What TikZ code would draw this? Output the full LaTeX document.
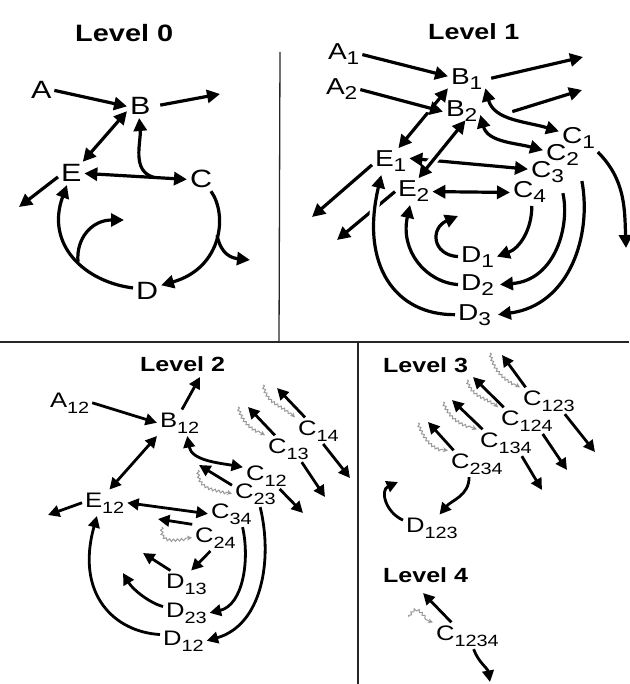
\documentclass[tikz,border=0pt]{standalone}
\usepackage{fontspec}
\setmainfont{Liberation Sans}[FakeStretch=1.22]
\usetikzlibrary{arrows.meta,decorations.pathmorphing,calc}
\newcommand\subA[1]{\raisebox{-5pt}{\fontsize{18.6}{19}\selectfont #1}}
\newcommand\subB[1]{\raisebox{-6pt}{\fontsize{16.3}{17}\selectfont #1}}
\begin{document}
\begin{tikzpicture}[x=1pt,y=1pt,
  lab/.style={inner sep=0pt, outer sep=3pt, anchor=base west, xshift=-3pt},
  tz/.style={lab, font=\fontsize{25}{25}\selectfont},
  to/.style={lab, font=\fontsize{23}{23}\selectfont},
  tt/.style={lab, font=\fontsize{21}{21}\selectfont},
  ttl/.style={inner sep=0pt, anchor=base west, font=\bfseries\fontsize{#1}{#1}\selectfont},
  arA/.style={line width=3.2pt, -{Triangle[length=13pt,width=13pt]}},
  darA/.style={line width=3.2pt, {Triangle[length=13pt,width=13pt]}-{Triangle[length=13pt,width=13pt]}},
  arB/.style={line width=2.8pt, -{Triangle[length=11.5pt,width=11.5pt]}},
  darB/.style={line width=2.8pt, {Triangle[length=11.5pt,width=11.5pt]}-{Triangle[length=11.5pt,width=11.5pt]}},
  halo/.style={preaction={draw=white, line width=9pt, -, shorten <=12pt, shorten >=12pt}},
  ghost/.style={draw=black!40, line width=1pt, decorate,
    decoration={snake, amplitude=1.2pt, segment length=4pt, post length=5pt},
    -{Stealth[length=5pt,width=5pt]}},
  framel/.style={line width=1.3pt, draw=black!85}]
\useasboundingbox (0,0) rectangle (629,-684);

% frame
\draw[framel] (280,-52) -- (279,-342);
\draw[framel] (0,-342) -- (629,-342);
\draw[framel] (358,-342) -- (358,-684);

% ---------------- Level 0
\node[ttl=23.7] (L0) at (75,-42) {Level 0};
\node[tz] (A) at (31,-99) {A};
\node[tz] (B) at (130,-115) {B};
\node[tz] (E) at (61,-182) {E};
\node[tz] (C) at (190,-188) {C};
\node[tz] (D) at (136,-299) {D};
\coordinate (Bout) at (220,-94);
\coordinate (Eout) at (19,-207);
\coordinate (Dcurl) at (124,-220);
\coordinate (Cout) at (250,-260);

\draw[arA] (A.east) -- (B.west);
\draw[arA, shorten <=7pt] (B.east) -- (Bout);
\draw[darA] (B.200) -- (E.45);
\draw[darA] (E.east) -- (C.west) coordinate[pos=0.68] (ECm);
\draw[arA] (ECm) to[out=165,in=-85] (B.265);
\draw[arA] (E.195) -- (Eout);
\draw[arA] (D.170) .. controls (85,-282) and (45,-245) .. (E.250) coordinate[pos=0.45] (DEm);
\draw[arA] (DEm) .. controls (76,-238) and (92,-220) .. (Dcurl);
\draw[arA] (C.310) .. controls (228,-215) and (222,-268) .. (D.20) coordinate[pos=0.45] (CDm);
\draw[arA] (CDm) .. controls (221,-255) and (232,-258) .. (Cout);

% ---------------- Level 1
\node[ttl=22] (L1) at (428,-40) {Level 1};
\node[to] (A1) at (328,-60) {A\subA{1}};
\node[to] (A2) at (326,-95) {A\subA{2}};
\node[to] (B1) at (451,-85) {B\subA{1}};
\node[to] (B2) at (446,-117) {B\subA{2}};
\node[to] (C1) at (562,-144) {C\subA{1}};
\node[to] (C2) at (546,-161) {C\subA{2}};
\node[to] (C3) at (531,-178) {C\subA{3}};
\node[to] (C4) at (513,-198) {C\subA{4}};
\node[to] (E1) at (375,-167) {E\subA{1}};
\node[to] (E2) at (398,-197) {E\subA{2}};
\node[to] (D1) at (461,-262) {D\subA{1}};
\node[to] (D2) at (461,-290) {D\subA{2}};
\node[to] (D3) at (458,-320) {D\subA{3}};
\coordinate (B1out) at (583,-57);
\coordinate (B2out) at (582,-90);
\coordinate (C1out) at (626,-248);
\coordinate (E1out) at (312,-217);
\coordinate (E2out) at (337,-240);
\coordinate (D1curl) at (458,-216);

\draw[arA] (A1.east) -- (B1.170);
\draw[darA] (E1.60) -- (B1.205);
\draw[arA,halo] (A2.east) -- (B2.west);
\draw[arA, shorten <=6pt] (B1.east) -- (B1out);
\draw[arA] ([xshift=32pt]B2.east) -- (B2out);
\draw[darA] (B1.-25) to[out=-75,in=163] (C1.160);
\draw[darA] (B2.-10) to[out=-75,in=165] (C2.165);
\draw[darA] (E1.10) -- (C3.170);
\draw[darA,halo, shorten >=-6pt] (E2.70) -- (B2.south);
\draw[darA] (E2.east) -- (C4.west);
\draw[arA] (E1.190) -- (E1out);
\draw[arA] (E2.west) -- (E2out);
\draw[arA] (C1.-35) to[out=-45,in=92] (C1out);
\draw[arA] ([yshift=-12pt]C2.south east) .. controls (592,-235) and (570,-305) .. ([xshift=4pt]D3.east);
\draw[arA] ([shift={(-4,-7)}]C3.south east) .. controls (570,-225) and (556,-280) .. ([xshift=3pt]D2.east);
\draw[arA] (C4.-80) to[out=-90,in=20] (D1.east);
\draw[arA] (D1.west) .. controls (432,-255) and (430,-228) .. (D1curl);
\draw[arA] (D2.west) .. controls (425,-282) and (400,-250) .. (E2.255);
\draw[arA,halo] (D3.west) .. controls (395,-315) and (360,-265) .. (E1.235);

% ---------------- Level 2
\node[ttl=20.5] (L2) at (140,-371) {Level 2};
\node[tt] (A12) at (50,-407) {A\subB{12}};
\node[tt] (B12) at (160,-427) {B\subB{12}};
\node[tt] (E12) at (85,-507) {E\subB{12}};
\node[tt] (C14) at (298,-435) {C\subB{14}};
\node[tt] (C13) at (268,-453) {C\subB{13}};
\node[tt] (C12) at (246,-480) {C\subB{12}};
\node[tt] (C23) at (235,-498) {C\subB{23}};
\node[tt] (C34) at (211,-518) {C\subB{34}};
\node[tt] (C24) at (195,-542) {C\subB{24}};
\node[tt] (D13) at (166,-588) {D\subB{13}};
\node[tt] (D23) at (166,-617) {D\subB{23}};
\node[tt] (D12) at (163,-645) {D\subB{12}};
\coordinate (B12out) at (200,-377);
\coordinate (E12out) at (48,-515);
\coordinate (C14ul) at (277,-388);
\coordinate (C14dr) at (350,-478);
\coordinate (C13ul) at (248,-407);
\coordinate (C13dr) at (325,-497);
\coordinate (C12dr) at (303,-513);
\coordinate (C23ul) at (199,-465);
\coordinate (C24l) at (158,-519);
\coordinate (D13ul) at (143,-553);
\coordinate (D23ul) at (123,-573);

\draw[arB] (A12.east) -- (B12.west);
\draw[arB] (B12.80) -- (B12out);
\draw[darB] (B12.south west) -- (E12.70);
\draw[darB] (B12.-60) to[out=-80,in=170] (C12.160);
\draw[darB] (E12.east) -- (C34.west);
\draw[arB] (E12.west) -- (E12out);
\draw[arB] (C14.135) -- (C14ul);
\draw[arB] (C14.-70) -- (C14dr);
\draw[arB] (C13.135) -- (C13ul);
\draw[arB] (C13.-45) -- (C13dr);
\draw[arB] (C12.-45) -- (C12dr);
\draw[arB] (C23.160) -- (C23ul);
\draw[arB] (C23.-70) .. controls (273,-560) and (262,-625) .. (D12.east);
\draw[arB] (C34.-50) .. controls (250,-560) and (243,-605) .. (D23.east);
\draw[arB] (C24.150) -- (C24l);
\draw[arB] (C24.-110) -- (D13.70);
\draw[arB] (D13.140) -- (D13ul);
\draw[arB] (D23.165) .. controls (150,-603) and (133,-590) .. (D23ul);
\draw[arB] (D12.165) .. controls (115,-632) and (75,-595) .. (E12.240);
\draw[ghost] (263,-385) .. controls (268,-405) and (280,-402) .. (C14.north west);
\draw[ghost] (238,-407) .. controls (244,-428) and (258,-430) .. (C13.north west);
\draw[ghost] (198,-470) .. controls (198,-490) and (215,-488) .. (C23.west);
\draw[ghost] (162,-527) .. controls (160,-545) and (178,-538) .. (C24.west);

% ---------------- Level 3
\node[ttl=20.5] (L3) at (383,-372) {Level 3};
\node[tt] (C123) at (523,-405) {C\subB{123}};
\node[tt] (C124) at (501,-425) {C\subB{124}};
\node[tt] (C134) at (480,-447) {C\subB{134}};
\node[tt] (C234) at (451,-468) {C\subB{234}};
\node[tt] (D123) at (406,-532) {D\subB{123}};
\coordinate (C123ul) at (502,-355);
\coordinate (C123dr) at (595,-452);
\coordinate (C124ul) at (473,-377);
\coordinate (C124dr) at (567,-470);
\coordinate (C134ul) at (452,-400);
\coordinate (C134dr) at (542,-490);
\coordinate (C234ul) at (428,-422);
\coordinate (D123curl) at (398,-482);

\draw[arB] (C123.150) -- (C123ul);
\draw[arB] (C123.-40) -- (C123dr);
\draw[arB] (C124.150) -- (C124ul);
\draw[arB] (C124.-40) -- (C124dr);
\draw[arB] (C134.150) -- (C134ul);
\draw[arB] (C134.-40) -- (C134dr);
\draw[arB] (C234.150) -- (C234ul);
\draw[arB] (C234.-120) to[out=-90,in=50] (D123.60);
\draw[arB] (D123.165) .. controls (385,-512) and (380,-490) .. (D123curl);
\draw[ghost] (490,-353) .. controls (495,-375) and (508,-380) .. (C123.north west);
\draw[ghost] (467,-380) .. controls (472,-398) and (488,-396) .. (C124.north west);
\draw[ghost] (443,-402) .. controls (450,-420) and (462,-424) .. (C134.north west);
\draw[ghost] (418,-423) .. controls (425,-443) and (436,-450) .. (C234.north west);

% ---------------- Level 4
\node[ttl=20.5] (L4) at (383,-582) {Level 4};
\node[tt] (C1234) at (436,-640) {C\subB{1234}};
\coordinate (C1234ul) at (423,-593);
\coordinate (C1234dr) at (490,-682);
\draw[arB] (C1234.140) -- (C1234ul);
\draw[arB] (C1234.-65) to[out=-70,in=100] (C1234dr);
\draw[ghost] (409,-617) .. controls (418,-600) and (422,-622) .. (C1234.north west);
\end{tikzpicture}
\end{document}
